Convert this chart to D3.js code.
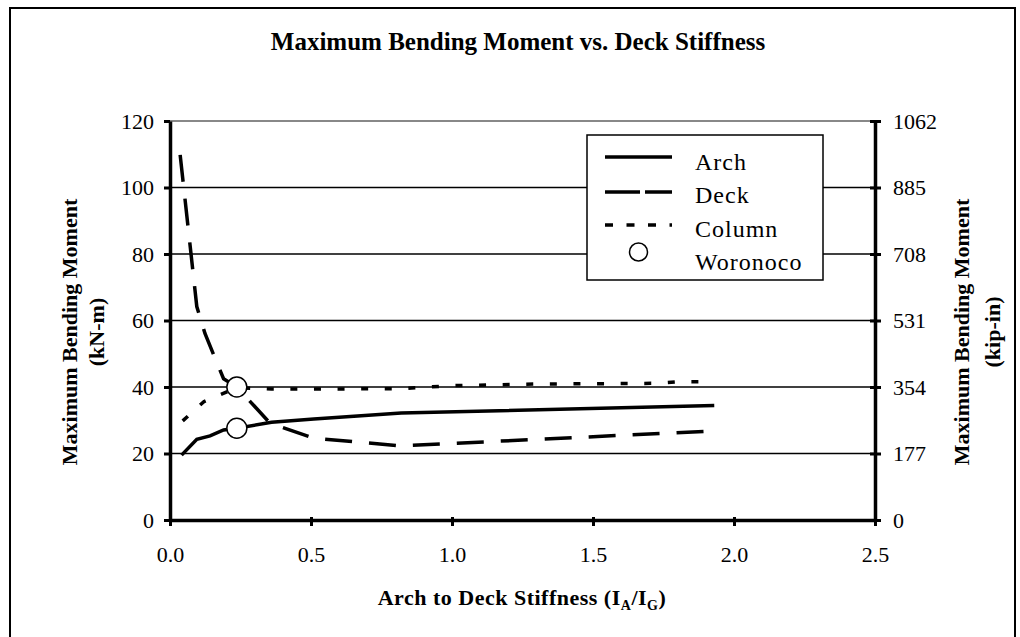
<!DOCTYPE html>
<html>
<head>
<meta charset="utf-8">
<script src="https://cdn.jsdelivr.net/npm/d3@7"></script>
<style>
  html, body { margin: 0; padding: 0; background: #fff; }
  svg { display: block; }
  text { font-family: "Liberation Serif", "Times New Roman", serif; fill: #000; }
</style>
</head>
<body>
<svg id="chart" width="1020" height="637"></svg>
<script>
// ---- data ----
const title = "Maximum Bending Moment vs. Deck Stiffness";
const xTicks = [0, 0.5, 1.0, 1.5, 2.0, 2.5];
const yTicks = [0, 20, 40, 60, 80, 100, 120];
const y2Ticks = [0, 177, 354, 531, 708, 885, 1062];

const archX = [0.041, 0.095, 0.142, 0.19, 0.237, 0.36, 0.51, 0.82, 1.93];
const archY = [19.5, 24.3, 25.3, 27.1, 27.6, 29.4, 30.4, 32.2, 34.4];

const deckX = [0.036, 0.095, 0.124, 0.16, 0.19, 0.237, 0.355, 0.51, 0.82, 1.93];
const deckY = [109.8, 64.2, 56.1, 48.6, 42.5, 40.0, 29.1, 24.6, 22.3, 26.8];

const columnX = [0.045, 0.12, 0.237, 0.36, 0.51, 0.82, 1.0, 1.3, 1.72, 1.8, 1.93];
const columnY = [29.8, 35.6, 39.8, 39.4, 39.4, 39.5, 40.4, 40.9, 41.1, 41.6, 41.6];

const woronocoX = [0.237, 0.237];
const woronocoY = [40.0, 27.6];

const legendNames = ["Arch", "Deck", "Column", "Woronoco"];

// ---- drawing ----
const svg = d3.select("#chart");
const x = d3.scaleLinear().domain([0, 2.5]).range([170, 875]);
const y = d3.scaleLinear().domain([0, 120]).range([520, 121]);
const y2 = d3.scaleLinear().domain([0, 1062]).range([520, 121]);

// outer frame
svg.append("rect").attr("x", 10).attr("y", 8).attr("width", 1005).attr("height", 660)
  .attr("fill", "none").attr("stroke", "#000").attr("stroke-width", 2);

// title
svg.append("text").attr("x", 518).attr("y", 50).attr("text-anchor", "middle")
  .attr("font-size", 25).attr("font-weight", "bold").text(title);

// gridlines
svg.append("g").selectAll("line").data(yTicks.filter(d => d > 0)).join("line")
  .attr("x1", x(0)).attr("x2", x(2.5))
  .attr("y1", d => y(d)).attr("y2", d => y(d))
  .attr("stroke", d => d === 120 ? "#888" : "#000")
  .attr("stroke-width", d => d === 120 ? 2 : 1.5);

// axes
const gL = svg.append("g").attr("transform", `translate(${x(0)},0)`)
  .call(d3.axisLeft(y).tickValues(yTicks).tickSize(6).tickSizeOuter(0).tickPadding(10));
const gR = svg.append("g").attr("transform", `translate(${x(2.5)},0)`)
  .call(d3.axisRight(y2).tickValues(y2Ticks).tickFormat(d3.format("d")).tickSize(6).tickSizeOuter(0).tickPadding(12));
const gB = svg.append("g").attr("transform", `translate(0,${y(0)})`)
  .call(d3.axisBottom(x).tickValues(xTicks).tickFormat(d3.format(".1f")).tickSize(6).tickSizeOuter(0).tickPadding(20));

[gL, gR, gB].forEach(g => {
  g.select(".domain").attr("stroke", "#000").attr("stroke-width", 3.5);
  g.selectAll(".tick line").attr("stroke", "#000").attr("stroke-width", 3);
  g.selectAll(".tick text").attr("font-family", "Liberation Serif, Times New Roman, serif")
    .attr("font-size", 22).attr("fill", "#000");
});
gR.selectAll(".tick line").attr("x1", -5);
gB.selectAll(".tick line").attr("y1", -3);

// axis titles
const yTitle = svg.append("text").attr("transform", "translate(83,332) rotate(-90)")
  .attr("text-anchor", "middle").attr("font-size", 22).attr("font-weight", "bold");
yTitle.append("tspan").attr("x", 0).attr("y", -6).text("Maximum Bending Moment");
yTitle.append("tspan").attr("x", 0).attr("y", 21).text("(kN-m)");

const y2Title = svg.append("text").attr("transform", "translate(977,332) rotate(-90)")
  .attr("text-anchor", "middle").attr("font-size", 22).attr("font-weight", "bold");
y2Title.append("tspan").attr("x", 0).attr("y", -8).text("Maximum Bending Moment");
y2Title.append("tspan").attr("x", 0).attr("y", 23).text("(kip-in)");

const xTitle = svg.append("text").attr("x", 522).attr("y", 605).attr("text-anchor", "middle")
  .attr("font-size", 22).attr("font-weight", "bold").attr("letter-spacing", 0.5);
xTitle.append("tspan").text("Arch to Deck Stiffness (I");
xTitle.append("tspan").attr("font-size", 14).attr("dy", 5).text("A");
xTitle.append("tspan").attr("dy", -5).text("/I");
xTitle.append("tspan").attr("font-size", 14).attr("dy", 5).text("G");
xTitle.append("tspan").attr("dy", -5).text(")");

// series
const line = d3.line().x(d => x(d[0])).y(d => y(d[1]));
const zip = (a, b) => a.map((v, i) => [v, b[i]]);

svg.append("path").datum(zip(columnX, columnY)).attr("d", line)
  .attr("fill", "none").attr("stroke", "#000").attr("stroke-width", 3.5)
  .attr("stroke-dasharray", "7,16.6");
svg.append("path").datum(zip(archX, archY)).attr("d", line)
  .attr("fill", "none").attr("stroke", "#000").attr("stroke-width", 3.5);
svg.append("path").datum(zip(deckX, deckY)).attr("d", line)
  .attr("fill", "none").attr("stroke", "#000").attr("stroke-width", 3.5)
  .attr("stroke-dasharray", "27,17");

svg.append("g").selectAll("circle").data(zip(woronocoX, woronocoY)).join("circle")
  .attr("cx", d => x(d[0])).attr("cy", d => y(d[1])).attr("r", 10)
  .attr("fill", "#fff").attr("stroke", "#000").attr("stroke-width", 1.5);

// legend
const lg = svg.append("g");
lg.append("rect").attr("x", 587).attr("y", 135).attr("width", 236).attr("height", 145)
  .attr("fill", "#fff").attr("stroke", "#000").attr("stroke-width", 1.5);
const rowsY = [157, 192, 225, 252];
const textY = [170, 203, 237, 270];
lg.append("line").attr("x1", 605).attr("x2", 672).attr("y1", rowsY[0]).attr("y2", rowsY[0])
  .attr("stroke", "#000").attr("stroke-width", 3.5);
lg.append("line").attr("x1", 605).attr("x2", 672).attr("y1", rowsY[1]).attr("y2", rowsY[1])
  .attr("stroke", "#000").attr("stroke-width", 3.5).attr("stroke-dasharray", "35,5");
lg.append("line").attr("x1", 605).attr("x2", 672).attr("y1", rowsY[2]).attr("y2", rowsY[2])
  .attr("stroke", "#000").attr("stroke-width", 3.5).attr("stroke-dasharray", "8,13.5");
lg.append("circle").attr("cx", 638.5).attr("cy", rowsY[3]).attr("r", 9)
  .attr("fill", "#fff").attr("stroke", "#000").attr("stroke-width", 1.5);
lg.selectAll("text.leg").data(legendNames).join("text").attr("class", "leg")
  .attr("x", 695).attr("y", (d, i) => textY[i]).attr("font-size", 24)
  .attr("letter-spacing", 1).text(d => d);
</script>
</body>
</html>
